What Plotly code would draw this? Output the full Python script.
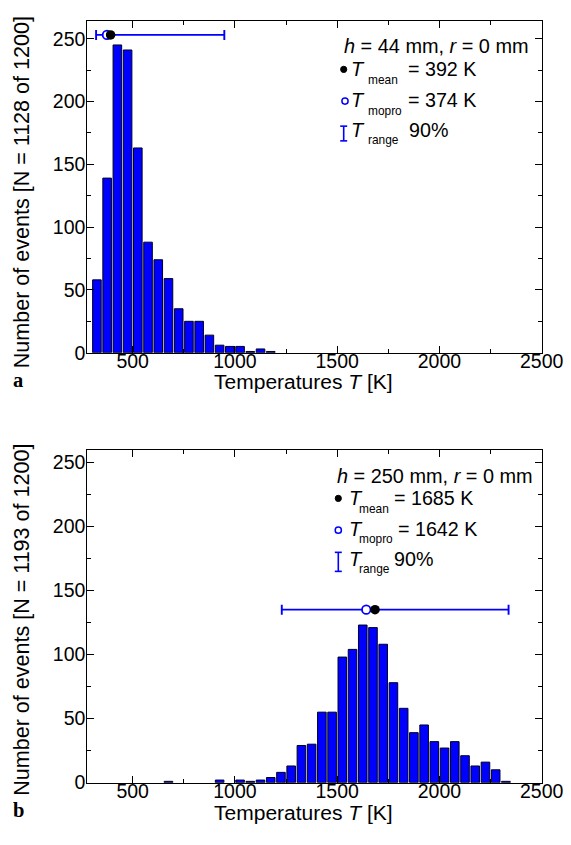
import plotly.graph_objects as go

# ---------------- data ----------------
top_centers = [325, 375, 425, 475, 525, 575, 625, 675, 725, 775, 825, 875, 925, 975, 1025, 1075, 1125, 1175]
top_counts = [58, 139, 245, 241, 163, 88, 74, 59, 35, 25, 25, 14, 6, 5, 5, 1, 3, 1]

bot_centers = [675, 925, 1025, 1075, 1125, 1175, 1225, 1275, 1325, 1375, 1425, 1475, 1525, 1575,
               1625, 1675, 1725, 1775, 1825, 1875, 1925, 1975, 2025, 2075, 2125, 2175, 2225, 2275, 2325]
bot_counts = [1, 2, 2, 1, 2, 4, 8, 13, 29, 30, 55, 55, 98, 104,
              123, 121, 108, 78, 58, 39, 45, 32, 27, 32, 21, 13, 16, 10, 1]

top_stats = dict(mean=392, mopro=374, lo=321, hi=948, level=253)
bot_stats = dict(mean=1685, mopro=1642, lo=1229, hi=2338, level=135)

top_label = ["<i>h</i> = 44 mm, <i>r</i> = 0 mm", "= 392 K", "= 374 K", "90%"]
bot_label = ["<i>h</i> = 250 mm, <i>r</i> = 0 mm", "= 1685 K", "= 1642 K", "90%"]
sub_labels = ["mean", "mopro", "range"]
panel_letters = ["a", "b"]
n_events = [1128, 1193]

x_ticks = [500, 1000, 1500, 2000, 2500]
y_ticks = [0, 50, 100, 150, 200, 250]

# positions are given in picture pixels of a 571 x 845 image
PW, PH = 571, 845
W, H = 593, 857
FS = 1.026          # font / size compensation
FONT = "Liberation Sans, Arial, sans-serif"
SERIF = "Liberation Serif, Times New Roman, serif"
BLUE = "#0000FF"


def px(x):
    return x / PW


def py(y):
    return 1 - y / PH


fig = go.Figure()


def add_panel(centers, counts, stats, xa, ya):
    fig.add_trace(go.Bar(x=centers, y=counts, width=42, xaxis=xa, yaxis=ya,
                         marker=dict(color=BLUE, line=dict(color="#000022", width=1)),
                         showlegend=False))
    fig.add_trace(go.Scatter(x=[stats["mopro"]], y=[stats["level"]], xaxis=xa, yaxis=ya,
                             mode="markers",
                             marker=dict(size=8.5, color="white", line=dict(color=BLUE, width=1.8)),
                             error_x=dict(type="data", symmetric=False,
                                          array=[stats["hi"] - stats["mopro"]],
                                          arrayminus=[stats["mopro"] - stats["lo"]],
                                          color=BLUE, thickness=1.9, width=5),
                             showlegend=False))
    fig.add_trace(go.Scatter(x=[stats["mean"]], y=[stats["level"]], xaxis=xa, yaxis=ya,
                             mode="markers", marker=dict(size=9.5, color="black"),
                             showlegend=False))


add_panel(top_centers, top_counts, top_stats, "x", "y")
add_panel(bot_centers, bot_counts, bot_stats, "x2", "y2")

axis_common = dict(showline=True, linecolor="black", linewidth=1.1, mirror="allticks",
                   ticks="inside", ticklen=7, tickwidth=1.1, tickcolor="black",
                   showgrid=False, zeroline=False,
                   tickfont=dict(family=FONT, size=19.5, color="black"))
xminor = dict(ticklen=4, tick0=0, dtick=250, ticks="inside", tickcolor="black", tickwidth=1.1)
yminor = dict(ticklen=4, tick0=0, dtick=25, ticks="inside", tickcolor="black", tickwidth=1.1)

xdom = [px(87.3), px(541.7)]
fig.update_layout(
    width=W, height=H, autosize=False,
    margin=dict(l=0, r=0, t=0, b=0, pad=0),
    paper_bgcolor="white", plot_bgcolor="white",
    xaxis=dict(domain=xdom, range=[278, 2500], anchor="y", tickvals=x_ticks, minor=xminor,
               ticklabelstandoff=-9, **axis_common),
    yaxis=dict(domain=[py(352.3), py(20.7)], range=[0, 264.3], anchor="x", tickvals=y_ticks,
               minor=yminor, ticklabelstandoff=-3, **axis_common),
    xaxis2=dict(domain=xdom, range=[278, 2500], anchor="y2", tickvals=x_ticks, minor=xminor,
                ticklabelstandoff=-9, **axis_common),
    yaxis2=dict(domain=[py(781.7), py(449)], range=[0, 260], anchor="x2", tickvals=y_ticks,
                minor=yminor, ticklabelstandoff=-3, **axis_common),
)

ann = []
shapes = []


def text(x, y, s, size, xanchor="left", family=FONT, **kw):
    ann.append(dict(x=px(x), y=py(y), xref="paper", yref="paper", text=s, showarrow=False,
                    xanchor=xanchor, yanchor="middle", borderpad=0,
                    font=dict(family=family, size=size * FS, color="black"), **kw))


# axis titles and panel letters
for i, yc in enumerate([381.5, 811.5]):
    text(303, yc, "Temperatures <i>T</i> [K]", 20.5, xanchor="center")
    text(18.5, yc - 2, "<b>%s</b>" % panel_letters[i], 20, xanchor="center", family=SERIF)
for i, yc in enumerate([192, 619]):
    text(22, yc, "Number of events [N = %d of 1200]" % n_events[i], 21, xanchor="center",
         textangle=-90)


def legend(labels, line1, sym_x, t_x, sub_x, val_xs, ys, sub_ys, bar_y):
    text(line1[0], line1[1], labels[0], 19.4)
    r = 3.1
    shapes.append(dict(type="circle", xref="paper", yref="paper",
                       x0=px(sym_x[0] - r), x1=px(sym_x[0] + r),
                       y0=py(ys[0] + 0.3 + r), y1=py(ys[0] + 0.3 - r),
                       fillcolor="black", line=dict(color="black", width=1)))
    shapes.append(dict(type="circle", xref="paper", yref="paper",
                       x0=px(sym_x[1] - r), x1=px(sym_x[1] + r),
                       y0=py(ys[1] + 1.5 + r), y1=py(ys[1] + 1.5 - r),
                       fillcolor="white", line=dict(color=BLUE, width=1.5)))
    xb = sym_x[2]
    shapes.append(dict(type="line", xref="paper", yref="paper", x0=px(xb), x1=px(xb),
                       y0=py(bar_y[0]), y1=py(bar_y[1]), line=dict(color=BLUE, width=1.6)))
    for yy in bar_y:
        shapes.append(dict(type="line", xref="paper", yref="paper", x0=px(xb - 3.5), x1=px(xb + 3.5),
                           y0=py(yy), y1=py(yy), line=dict(color=BLUE, width=1.6)))
    for i in range(3):
        text(t_x, ys[i], "<i>T</i>", 19.4)
        text(sub_x, sub_ys[i], sub_labels[i], 11.6)
        text(val_xs[i], ys[i], labels[i + 1], 19.2)


legend(top_label, (342.7, 46), (343.7, 345, 343.7), 349.5, 366.7, [407, 407, 408],
       [69, 99.5, 129.5], [80, 111, 139.5], (126, 140.7))
legend(bot_label, (336, 475), (338.3, 338.3, 338.3), 348, 358.3, [393.3, 396.7, 393.3],
       [497.5, 528, 558], [508, 538.5, 568.5], (551.7, 570.7))

fig.update_layout(annotations=ann, shapes=shapes)
fig.write_html("out.html", config={"responsive": False},
               post_script="document.body.style.margin='0';document.body.style.overflow='hidden';"
                           "document.documentElement.style.overflow='hidden';")
